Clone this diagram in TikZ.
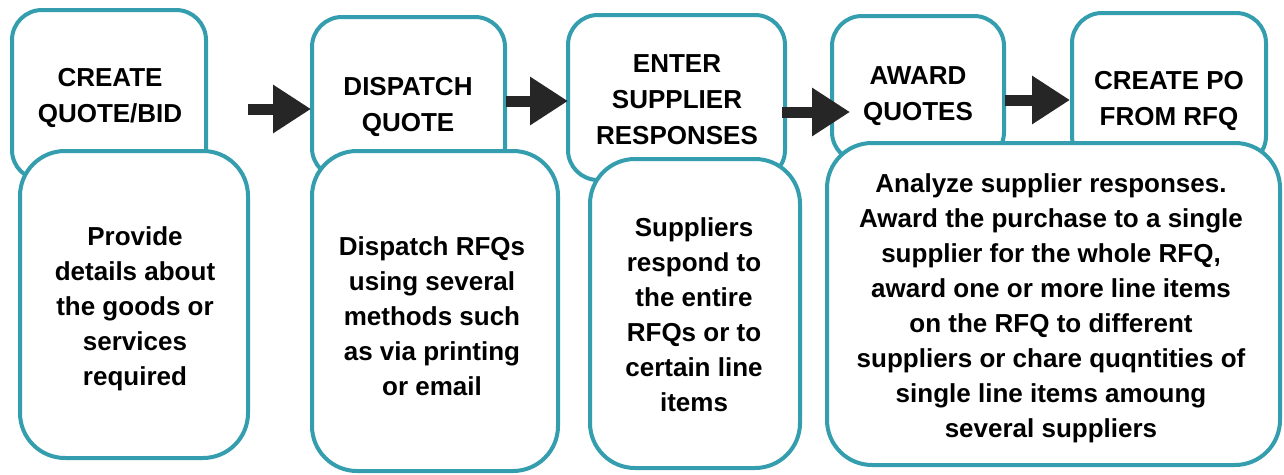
\documentclass[tikz,border=0pt]{standalone}
\usepackage{fontspec}
\setmainfont{Liberation Sans}
\usetikzlibrary{arrows.meta}
\definecolor{tealc}{RGB}{52,158,174}
\definecolor{arrc}{RGB}{38,38,38}
\begin{document}
\begin{tikzpicture}[x=1pt,y=-1pt,
  topbox/.style={draw=tealc, line width=4pt, fill=white, rounded corners=30pt},
  lowbox/.style={draw=tealc, line width=4pt, fill=white, rounded corners=45pt},
  title/.style={align=center, inner sep=0pt, font=\fontsize{26}{36}\selectfont\bfseries},
  desc/.style={align=center, inner sep=0pt, font=\fontsize{26}{35}\selectfont\bfseries},
  flow/.style={draw=arrc, line width=11pt, -{Triangle[length=38pt,width=46pt]}}]
\useasboundingbox (0,0) rectangle (1284,474);
% top boxes
\draw[topbox] (12,10) rectangle (206,180);
\draw[topbox] (312,17) rectangle (505,178);
\draw[topbox] (568,15) rectangle (785,180);
\draw[topbox] (832,16) rectangle (1004,162);
\draw[topbox] (1072,13) rectangle (1266,166);
\node[title] (t1) at (110,98) {CREATE\\QUOTE/BID};
\node[title] (t2) at (408,106.5) {DISPATCH\\QUOTE};
\node[title] (t3) at (677,99.5) {ENTER\\SUPPLIER\\RESPONSES};
\node[title] (t4) at (918,96) {AWARD\\QUOTES};
\node[title] (t5) at (1169,100.5) {CREATE PO\\FROM RFQ};
% lower boxes
\draw[lowbox] (20,151) rectangle (248,458);
\draw[lowbox] (312,151) rectangle (558,471);
\draw[lowbox] (590,159) rectangle (800,468);
\draw[lowbox] (827,143) rectangle (1280,465);
\node[desc] (d1) at (135,309) {Provide\\details about\\the goods or\\services\\required};
\node[desc] (d2) at (432,316) {Dispatch RFQs\\using several\\methods such\\as via printing\\or email};
\node[desc] (d3) at (694,315) {Suppliers\\respond to\\the entire\\RFQs or to\\certain line\\items};
\node[desc] (d4) at (1051,308) {Analyze supplier responses.\\Award the purchase to a single\\supplier for the whole RFQ,\\award one or more line items\\on the RFQ to different\\suppliers or chare quqntities of\\single line items amoung\\several suppliers};
% arrows
\coordinate (a1s) at (248,109); \coordinate (a1e) at (311,109);
\coordinate (a2s) at (506,101); \coordinate (a2e) at (568,101);
\coordinate (a3s) at (782,112); \coordinate (a3e) at (850,112);
\coordinate (a4s) at (1005,100); \coordinate (a4e) at (1070,100);
\draw[flow] (a1s) -- (a1e);
\draw[flow] (a2s) -- (a2e);
\draw[flow] (a3s) -- (a3e);
\draw[flow] (a4s) -- (a4e);
\end{tikzpicture}
\end{document}
